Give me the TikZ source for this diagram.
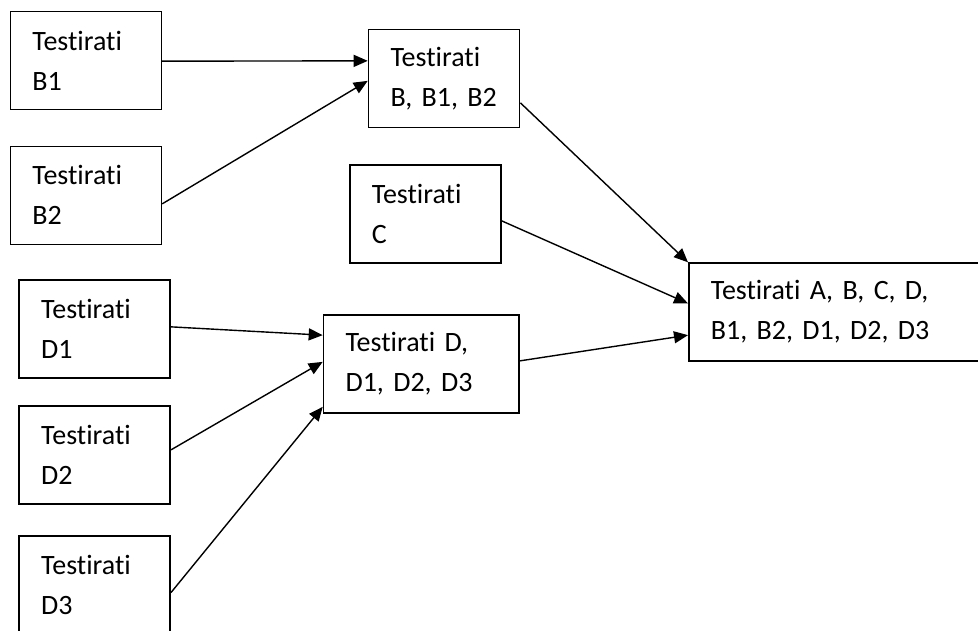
\documentclass[tikz,border=0pt]{standalone}
\usepackage{fontspec}
\setmainfont{Carlito}[Ligatures=NoCommon]
\usetikzlibrary{arrows.meta}
\begin{document}
\frenchspacing
\begin{tikzpicture}[x=1pt,y=1pt,
  box/.style={draw=black, line width=1.7pt, rectangle, anchor=north west,
    inner xsep=22pt, inner ysep=0pt, minimum height=98pt, align=left,
    font=\fontsize{28}{40}\selectfont\frenchspacing},
  w151/.style={text width=107pt},
  conn/.style={line width=1.4pt, -{Triangle[length=14pt,width=12pt]}}]
\useasboundingbox (0,0) rectangle (978,-630);
\node[box,w151] (B1) at (9.5,-10.7) {Testirati\\B1};
\node[box,w151] (B2) at (9.5,-145.5) {Testirati\\B2};
\node[box,w151] (BB) at (367.7,-28.5) {Testirati\\\mbox{B, B1, B2}};
\node[box,w151] (C) at (349,-164) {Testirati\\C};
\node[box,w151] (D1) at (18.3,-279) {Testirati\\D1};
\node[box,w151] (D2) at (18.3,-405) {Testirati\\D2};
\node[box,w151] (D3) at (18.3,-535) {Testirati\\D3};
\node[box,text width=151.6pt] (DD) at (322.7,-314.3) {\mbox{Testirati D,}\\\mbox{D1, D2, D3}};
\node[box,text width=245.5pt] (A) at (688,-262.3) {\mbox{Testirati A, B, C, D,}\\\mbox{B1, B2, D1, D2, D3}};
\draw[conn] ([yshift=-0.6pt]B1.east) -- ([yshift=17.5pt]BB.west);
\draw[conn] ([yshift=-8.5pt]B2.east) -- ([yshift=-2.5pt]BB.west);
\draw[conn] ([yshift=-24.5pt]BB.east) -- (A.north west);
\draw[conn] ([yshift=-7pt]C.east) -- ([yshift=8.7pt]A.west);
\draw[conn] ([yshift=3.3pt]DD.east) -- ([yshift=-23pt]A.west);
\draw[conn] ([yshift=2pt]D1.east) -- ([yshift=29pt]DD.west);
\draw[conn] ([yshift=5pt]D2.east) -- ([yshift=2.3pt]DD.west);
\draw[conn] ([yshift=-7.7pt]D3.east) -- ([yshift=-42.7pt]DD.west);
\end{tikzpicture}
\end{document}
